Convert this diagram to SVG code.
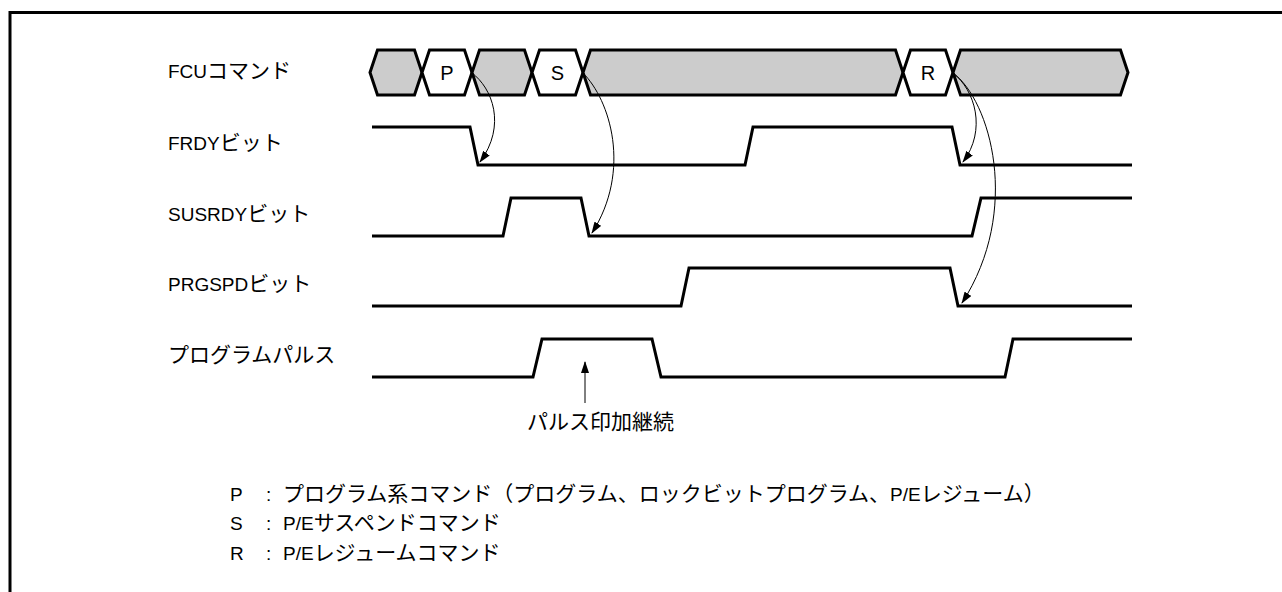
<svg xmlns="http://www.w3.org/2000/svg" width="1282" height="592" viewBox="0 0 1282 592">
<style>
text{font-family:"Liberation Sans","Noto Sans CJK JP",sans-serif;font-size:21px;fill:#000}
.l{font-size:19px}
.big{font-size:20px}
.hex{stroke:#000;stroke-width:3;stroke-linejoin:miter}
.g{fill:#cccccc}
.w{fill:#fff}
.wave{fill:none;stroke:#000;stroke-width:3;stroke-linejoin:miter}
.arr{fill:none;stroke:#000;stroke-width:1;marker-end:url(#ah)}
</style>
<defs>
<marker id="ah" markerWidth="12" markerHeight="8" refX="11" refY="4" orient="auto" markerUnits="userSpaceOnUse">
<path d="M0,0 L12,4 L0,8 Z" fill="#000"/>
</marker>
</defs>
<rect width="1282" height="592" fill="#fff"/>
<path d="M10,592 V12.5 H1282" fill="none" stroke="#000" stroke-width="3"/>
<g id="labels">
<text x="168" y="78"><tspan class="l">FCU</tspan>コマンド</text>
<text x="168" y="149.5"><tspan class="l">FRDY</tspan>ビット</text>
<text x="168" y="220.5"><tspan class="l">SUSRDY</tspan>ビット</text>
<text x="168" y="290.5"><tspan class="l">PRGSPD</tspan>ビット</text>
<text x="168" y="361.5">プログラムパルス</text>
</g>
<g id="fcu">
<path class="hex g" d="M370,72.5 L377.5,50 L414.5,50 L422,72.5 L414.5,95 L377.5,95 Z"/>
<path class="hex w" d="M422,72.5 L429.5,50 L464.5,50 L472,72.5 L464.5,95 L429.5,95 Z"/>
<path class="hex g" d="M472,72.5 L479.5,50 L524.5,50 L532,72.5 L524.5,95 L479.5,95 Z"/>
<path class="hex w" d="M532,72.5 L539.5,50 L575.5,50 L583,72.5 L575.5,95 L539.5,95 Z"/>
<path class="hex g" d="M583,72.5 L590.5,50 L895.5,50 L903,72.5 L895.5,95 L590.5,95 Z"/>
<path class="hex w" d="M903,72.5 L910.5,50 L945.5,50 L953,72.5 L945.5,95 L910.5,95 Z"/>
<path class="hex g" d="M953,72.5 L960.5,50 L1120.5,50 L1128,72.5 L1120.5,95 L960.5,95 Z"/>
<text class="big" x="447" y="80" text-anchor="middle">P</text>
<text class="big" x="557.5" y="80" text-anchor="middle">S</text>
<text class="big" x="928" y="80" text-anchor="middle">R</text>
</g>
<g id="frdy"><polyline class="wave" points="372,127 470,127 478,165 745,165 753,127 952,127 960,165 1132,165"/></g>
<g id="susrdy"><polyline class="wave" points="372,236 503,236 511,198 581,198 589,236 972,236 981,198 1132,198"/></g>
<g id="prgspd"><polyline class="wave" points="372,306 681,306 689,268 950,268 958,306 1132,306"/></g>
<g id="pulse"><polyline class="wave" points="372,377 533,377 542,339 652,339 661,377 1005,377 1013,339 1132,339"/></g>
<g id="connectors">
<path class="arr" d="M472,73 C492,88 507,125 480,162"/>
<path class="arr" d="M583,73 C610,100 632,170 592,233"/>
<path class="arr" d="M953,73 C975,90 987,130 963,162"/>
<path class="arr" d="M953,73 C990,100 1022,210 962,303"/>
<path class="arr" d="M585,403 L585,362"/>
</g>
<g id="note">
<text x="527" y="428.5">パルス印加継続</text>
</g>
<g id="legend">
<text x="230" y="500.5"><tspan class="l">P</tspan><tspan class="l" x="266">:</tspan><tspan x="283">プログラム系コマンド（プログラム、ロックビットプログラム、</tspan><tspan class="l">P/E</tspan>レジューム）</text>
<text x="230" y="530"><tspan class="l">S</tspan><tspan class="l" x="266">:</tspan><tspan class="l" x="283">P/E</tspan>サスペンドコマンド</text>
<text x="230" y="559.5"><tspan class="l">R</tspan><tspan class="l" x="266">:</tspan><tspan class="l" x="283">P/E</tspan>レジュームコマンド</text>
</g>
</svg>
